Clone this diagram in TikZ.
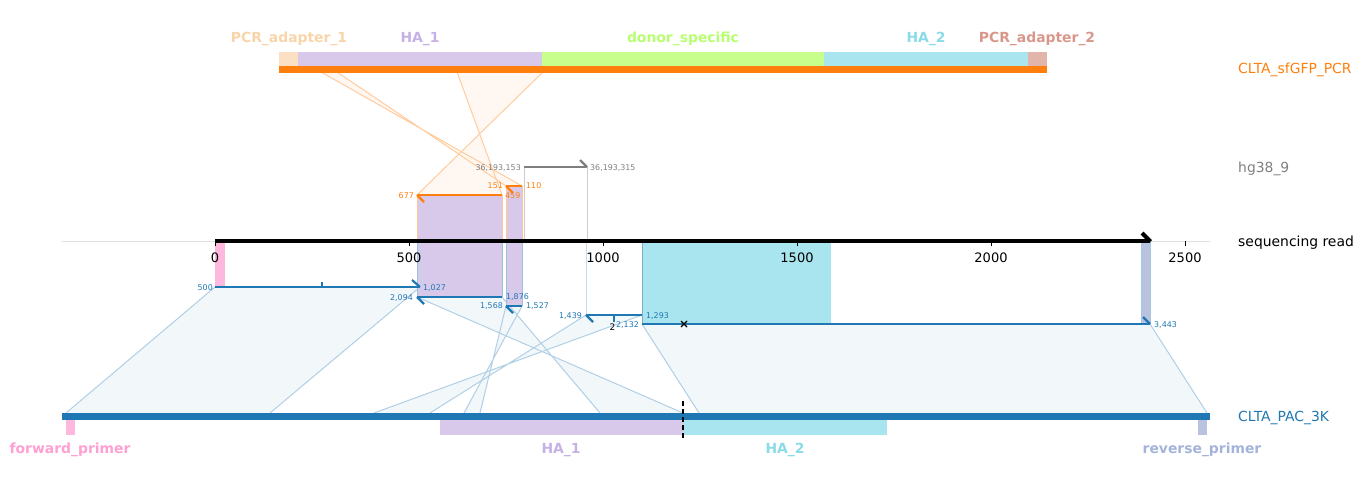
\documentclass[tikz,border=0pt]{standalone}
\usepackage{fontspec}
\setmainfont{DejaVu Sans}
\definecolor{cOr}{HTML}{FF7F0E}
\definecolor{cBl}{HTML}{1F77B4}
\definecolor{cGr}{HTML}{7F7F7F}
\definecolor{fPA1}{HTML}{FBE0C4}
\definecolor{lPA1}{HTML}{F9D4A8}
\definecolor{fHA1}{HTML}{D8C8EA}
\definecolor{lHA1}{HTML}{C5B1E6}
\definecolor{fDS}{HTML}{C8FF8C}
\definecolor{lDS}{HTML}{B8FF70}
\definecolor{fHA2}{HTML}{A9E5EE}
\definecolor{lHA2}{HTML}{8ADBE8}
\definecolor{fPA2}{HTML}{E2B5AA}
\definecolor{lPA2}{HTML}{D9978B}
\definecolor{fFP}{HTML}{FFB8DD}
\definecolor{lFP}{HTML}{FF9FD2}
\definecolor{fRP}{HTML}{B9C3E0}
\definecolor{lRP}{HTML}{A3B3D9}
\begin{document}
\begin{tikzpicture}[x=1pt,y=-1pt,
  seg/.style={line width=2.2pt},
  bpoly/.style={fill=cBl!6},
  bedge/.style={draw=cBl!35, line width=1pt},
  opoly/.style={fill=cOr!6},
  oedge/.style={draw=cOr!40, line width=1pt},
  small/.style={font=\fontsize{7.9}{9.5}\selectfont, inner sep=0pt},
  big/.style={font=\fontsize{13.9}{16}\selectfont, inner sep=0pt, anchor=base west},
  ticklab/.style={font=\fontsize{13}{15}\selectfont, inner sep=0pt, anchor=base},
  feat/.style={font=\bfseries\fontsize{13.9}{16}\selectfont, inner sep=0pt, anchor=base},
  ]
\useasboundingbox (0,0) rectangle (1364,487);

% ---- coordinates
\coordinate (s1a) at (215,287); \coordinate (s1b) at (420,287);
\coordinate (b1a) at (66,413);  \coordinate (b1b) at (270,413);
\coordinate (s2a) at (417,297); \coordinate (s2b) at (502,297);
\coordinate (b2a) at (683,413); \coordinate (b2b) at (600,413);
\coordinate (s3a) at (506,306); \coordinate (s3b) at (522,306);
\coordinate (b3a) at (480,413); \coordinate (b3b) at (464,413);
\coordinate (s4a) at (586,315); \coordinate (s4b) at (642,315);
\coordinate (b4a) at (430,413); \coordinate (b4b) at (374,413);
\coordinate (s5a) at (642,324); \coordinate (s5b) at (1150,324);
\coordinate (b5a) at (699,413); \coordinate (b5b) at (1207,413);
\coordinate (o1a) at (417,195); \coordinate (o1b) at (502,195);
\coordinate (t1a) at (543,72);  \coordinate (t1b) at (457,72);
\coordinate (o2a) at (506,186); \coordinate (o2b) at (522,186);
\coordinate (t2a) at (337,72);  \coordinate (t2b) at (321,72);
\coordinate (g1a) at (524,167); \coordinate (g1b) at (587,167);

% ---- blue alignment polygons
\fill[bpoly] (s1a) -- (s1b) -- (b1b) -- (b1a) -- cycle;
\fill[bpoly] (s2a) -- (s2b) -- (b2b) -- (b2a) -- cycle;
\fill[bpoly] (s3a) -- (s3b) -- (b3b) -- (b3a) -- cycle;
\fill[bpoly] (s4a) -- (s4b) -- (b4b) -- (b4a) -- cycle;
\fill[bpoly] (s5a) -- (s5b) -- (b5b) -- (b5a) -- cycle;
\draw[bedge] (s1a) -- (b1a) (s1b) -- (b1b);
\draw[bedge] (s2a) -- (b2a) (s2b) -- (b2b);
\draw[bedge] (s3a) -- (b3a) (s3b) -- (b3b);
\draw[bedge] (s4a) -- (b4a) (s4b) -- (b4b);
\draw[bedge] (s5a) -- (b5a) (s5b) -- (b5b);

% ---- orange alignment polygons
\fill[opoly] (o1a) -- (o1b) -- (t1b) -- (t1a) -- cycle;
\fill[opoly] (o2a) -- (o2b) -- (t2b) -- (t2a) -- cycle;
\draw[oedge] (o1a) -- (t1a) (o1b) -- (t1b);
\draw[oedge] (o2a) -- (t2a) (o2b) -- (t2b);

% ---- light axis line
\draw[black!12, line width=0.8pt] (62,241) -- (1210,241);

% ---- boxes on the read
\fill[fHA1] (417,195) rectangle (502,297);
\fill[fHA1] (506,186) rectangle (522,306);
\fill[fFP] (215,241) rectangle (225,287);
\fill[fHA2] (642,241) rectangle (831,324);
\fill[fRP] (1141,241) rectangle (1150,324);
\draw[cOr!45, line width=0.8pt] (417,241) -- (417,195) (502,195) -- (502,241);
\draw[cOr!45, line width=0.8pt] (506,241) -- (506,186) (522,186) -- (522,241);
\draw[cBl!45, line width=0.8pt] (417,241) -- (417,297) (502,297) -- (502,241);
\draw[cBl!45, line width=0.8pt] (506,241) -- (506,306) (522,306) -- (522,241);
\draw[cBl!30, line width=0.8pt] (420,241) -- (420,287);
\draw[cBl!25, line width=0.8pt] (586,241) -- (586,315);
\draw[cBl!60, line width=1pt] (642,241) -- (642,324);
\draw[cBl!40, line width=0.8pt] (1141,241) -- (1141,324) (1150,241) -- (1150,324);
\draw[black!20, line width=0.8pt] (524,241) -- (524,167) (587,167) -- (587,241);

% ---- top track
\fill[fPA1] (279,52) rectangle (298,66);
\fill[fHA1] (298,52) rectangle (542,66);
\fill[fDS] (542,52) rectangle (824,66);
\fill[fHA2] (824,52) rectangle (1028,66);
\fill[fPA2] (1028,52) rectangle (1047,66);
\fill[cOr] (279,66) rectangle (1047,72.5);

% ---- bottom track
\fill[cBl] (62,412.5) rectangle (1210,420);
\fill[fFP] (66,420) rectangle (75,435);
\fill[fHA1] (440,420) rectangle (683,435);
\fill[fHA2] (683,420) rectangle (887,435);
\fill[fRP] (1198,420) rectangle (1207,435);
\draw[black, line width=1.5pt, dash pattern=on 5pt off 3pt] (683,401) -- (683,440);

% ---- segments
\draw[seg, cBl] (s1a) -- (s1b);
\draw[seg, cBl] (s1b) -- ++(-8,-7);
\draw[seg, cBl] (322,287) -- (322,281.5);
\draw[seg, cBl] (s2a) -- (s2b);
\draw[seg, cBl] (s2a) -- ++(7,7);
\draw[seg, cBl] (s3a) -- (s3b);
\draw[seg, cBl] (s3a) -- ++(7,7);
\draw[seg, cBl] (s4a) -- (s4b);
\draw[seg, cBl] (s4a) -- ++(7,7);
\draw[seg, cBl] (614,315) -- (614,322);
\draw[seg, cBl] (s5a) -- (s5b);
\draw[seg, cBl] (s5b) -- ++(-7,-7);
\draw[seg, cOr] (o1a) -- (o1b);
\draw[seg, cOr] (o1a) -- ++(7,7);
\draw[seg, cOr] (o2a) -- (o2b);
\draw[seg, cOr] (o2a) -- ++(7,7);
\draw[seg, cGr] (g1a) -- (g1b);
\draw[seg, cGr] (g1b) -- ++(-7,-7);

% cross marker
\draw[black, line width=1.3pt] (681,321) -- (687,327) (681,327) -- (687,321);

% ---- read axis
\draw[black, line width=4.5pt] (215,241) -- (1150,241);
\draw[black, line width=4pt] (1150.5,241.5) -- (1142,233);
\foreach \x/\t in {215/0,409/500,603/1000,797/1500,991/2000,1185/2500}{
  \draw[black, line width=0.8pt] (\x,241) -- (\x,246);
  \node[ticklab] (tick\t) at (\x,262) {\t};
}

% ---- feature labels
\node[feat, text=lPA1] (lab-pa1) at (289,42) {PCR\_adapter\_1};
\node[feat, text=lHA1] (lab-ha1t) at (420,42) {HA\_1};
\node[feat, text=lDS] (lab-ds) at (683,42) {donor\_specific};
\node[feat, text=lHA2] (lab-ha2t) at (926,42) {HA\_2};
\node[feat, text=lPA2] (lab-pa2) at (1037,42) {PCR\_adapter\_2};
\node[feat, text=lFP] (lab-fp) at (70,453) {forward\_primer};
\node[feat, text=lHA1] (lab-ha1b) at (561,453) {HA\_1};
\node[feat, text=lHA2] (lab-ha2b) at (785,453) {HA\_2};
\node[feat, text=lRP] (lab-rp) at (1202,453) {reverse\_primer};

% ---- track labels
\node[big, text=cOr] (trk-top) at (1238,74) {CLTA\_sfGFP\_PCR};
\node[big, text=cGr] (trk-hg) at (1238,172) {hg38\_9};
\node[big, text=black] (trk-read) at (1238,246) {sequencing read};
\node[big, text=cBl] (trk-bot) at (1238,421) {CLTA\_PAC\_3K};

% ---- coordinate labels
\node[small, text=cGr, anchor=base east] (n1) at (521,170) {36,193,153};
\node[small, text=cGr, anchor=base west] (n2) at (590,170) {36,193,315};
\node[small, text=cOr, anchor=base east] (n3) at (414,198) {677};
\node[small, text=cOr, anchor=base west] (n4) at (505,198) {459};
\node[small, text=cOr, anchor=base east] (n5) at (503,188) {151};
\node[small, text=cOr, anchor=base west] (n6) at (526,188) {110};
\node[small, text=cBl, anchor=base east] (n7) at (213,290) {500};
\node[small, text=cBl, anchor=base west] (n8) at (423,290) {1,027};
\node[small, text=cBl, anchor=base east] (n9) at (413,300) {2,094};
\node[small, text=cBl, anchor=base west] (n10) at (506,299) {1,876};
\node[small, text=cBl, anchor=base east] (n11) at (503,308.5) {1,568};
\node[small, text=cBl, anchor=base west] (n12) at (526,308) {1,527};
\node[small, text=cBl, anchor=base east] (n13) at (582,318.5) {1,439};
\node[small, text=cBl, anchor=base west] (n14) at (646,318) {1,293};
\node[small, text=cBl, anchor=base east] (n15) at (639,327) {2,132};
\node[font=\fontsize{9}{11}\selectfont, inner sep=0pt, anchor=base] (n17) at (612.5,330) {2};
\node[small, text=cBl, anchor=base west] (n16) at (1154,327) {3,443};
\end{tikzpicture}
\end{document}
